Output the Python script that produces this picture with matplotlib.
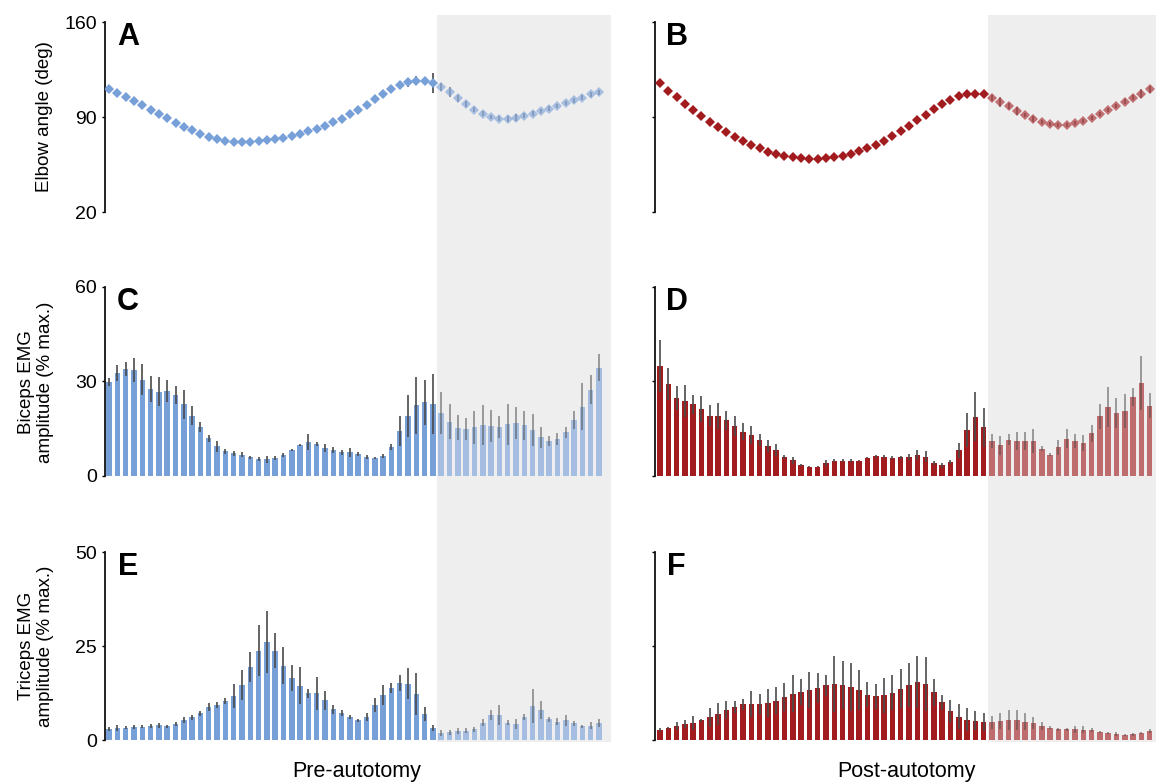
import matplotlib
matplotlib.use('Agg')
import matplotlib.pyplot as plt
from matplotlib.patches import Rectangle
import numpy as np

plt.rcParams['font.family'] = ['Liberation Sans', 'DejaVu Sans']

# ---- data (60 bins per cycle) ----
split = 40  # bins from this index on sit in the shaded phase

angle_pre = [111, 108, 104.8, 101.8, 98.6, 95.5, 92.2, 89, 85.9, 82.9,
             80.2, 77.7, 75.5, 73.7, 72.6, 71.8, 71.5, 71.5, 72, 72.8,
             73.5, 74.5, 76, 77.7, 79.4, 81.4, 83.6, 86.1, 88.8, 92,
             95.2, 99.2, 103.1, 106.8, 110.3, 113.4, 115.6, 116.9, 116.6, 114.9,
             111.9, 108.3, 103.8, 99.6, 95.5, 92.5, 90, 88.8, 88.5, 89.6,
             91, 92.5, 94.4, 96.2, 98.1, 100.3, 102.3, 104.3, 106.6, 108.3]
angle_pre_err = [2.0, 1.5, 1.5, 1.4, 1.5, 1.6, 1.5, 1.5, 1.6, 1.5,
                 1.6, 1.7, 1.8, 1.9, 2.2, 2.3, 2.4, 2.5, 2.4, 2.3,
                 2.2, 2.1, 2.0, 2.0, 2.1, 2.0, 2.0, 2.1, 2.0, 2.2,
                 2.3, 2.4, 2.6, 2.7, 2.9, 3.0, 3.2, 3.3, 3.0, 7.4,
                 3.0, 3.7, 2.4, 2.2, 2.0, 2.0, 1.8, 1.8, 1.9, 2.6,
                 2.0, 1.8, 1.8, 1.7, 1.7, 1.7, 1.8, 1.8, 1.9, 1.8]

angle_post = [114.7, 109.5, 104.8, 99.9, 95.2, 90.7, 86.6, 82.6, 78.7, 75.2,
              72, 69.3, 66.9, 64.4, 62.4, 61.2, 60.2, 59.5, 59, 59,
              59.5, 60.2, 61.2, 62.7, 64.6, 66.9, 69.3, 72.3, 75.7, 79.4,
              83.3, 87.6, 91.8, 95.7, 99.6, 102.9, 105.3, 106.8, 107, 106.6,
              104, 101.4, 98.1, 94.7, 91.5, 88.5, 86.3, 84.8, 84.1, 84.4,
              85.6, 87.3, 89.6, 92.2, 95, 98.1, 101.4, 104.3, 107.3, 110.5]
angle_post_err = [2.0, 1.2, 1.0, 1.0, 1.0, 1.0, 1.0, 1.0, 1.0, 1.0,
                  1.0, 1.0, 1.0, 1.0, 1.0, 1.0, 1.0, 1.0, 1.0, 1.0,
                  1.0, 1.0, 1.0, 1.0, 1.0, 1.0, 1.0, 1.0, 1.0, 1.0,
                  1.0, 1.0, 1.0, 1.0, 1.0, 1.2, 2.0, 2.0, 1.5, 1.5,
                  2.0, 3.7, 2.0, 3.0, 1.5, 2.0, 1.5, 1.5, 1.5, 1.5,
                  1.5, 1.5, 1.5, 1.5, 1.5, 1.5, 1.8, 2.0, 3.0, 2.5]

biceps_pre = [29.9, 32.7, 34, 33.5, 30.5, 27.7, 26.8, 26.9, 25.8, 22.8,
              19.2, 15.5, 12, 9.4, 7.8, 7.2, 6.7, 5.9, 5.4, 5.3,
              5.7, 6.7, 8.2, 9.9, 10.8, 10.1, 9, 8.2, 7.6, 7.5,
              6.9, 6.1, 5.7, 6.4, 9.2, 14.3, 19.1, 22.4, 23.4, 22.8,
              20, 17.2, 15.3, 14.9, 15.5, 16.1, 15.9, 15.6, 16.4, 16.8,
              16.1, 14.6, 12.3, 11.1, 11.8, 13.9, 17.7, 22, 27.4, 34.4]
biceps_pre_err = [1.2, 2.5, 2.3, 3.8, 4.9, 4.1, 4.5, 3.5, 2.8, 4.6,
                  3.1, 1.6, 1.1, 1.7, 0.8, 0.8, 0.8, 0.6, 0.5, 1.2,
                  0.7, 0.7, 0.3, 0.3, 2.4, 0.6, 1.3, 1.0, 0.8, 1.4,
                  0.7, 0.7, 0.3, 0.7, 1.1, 4.8, 6.6, 9.1, 7.1, 9.5,
                  6.6, 5.5, 4.0, 3.4, 5.2, 6.4, 5.2, 3.4, 6.5, 5.1,
                  4.6, 5.1, 3.3, 1.6, 1.9, 1.7, 2.9, 7.4, 4.5, 4.2]

biceps_post = [35, 29.2, 24.7, 23.9, 22.7, 21.2, 19.2, 19.1, 17.7, 15.8,
               14.1, 13, 11.4, 9.5, 8.2, 6.1, 5, 3.5, 2.9, 3,
               4.1, 4.8, 4.9, 4.9, 4.9, 5.8, 6.3, 6.1, 5.8, 5.9,
               6.1, 6.7, 6.1, 4.2, 3.4, 4.4, 8.2, 14.6, 18.8, 15.4,
               11.1, 9.7, 11.5, 11.1, 11.1, 11, 8.6, 6.7, 9.1, 11.8,
               11.1, 10.4, 13.5, 18.9, 21.9, 20, 20.7, 25.1, 29.6, 22.3]
biceps_post_err = [8.3, 5.0, 3.9, 5.1, 2.9, 4.1, 3.4, 4.2, 3.0, 3.2,
                   2.8, 2.9, 1.9, 1.8, 1.8, 0.7, 1.1, 0.4, 0.2, 0.3,
                   1.0, 0.5, 0.6, 0.5, 0.2, 0.2, 0.5, 0.5, 0.5, 0.5,
                   1.0, 1.6, 1.8, 0.7, 0.8, 0.7, 2.4, 5.3, 7.8, 6.3,
                   2.3, 2.9, 1.7, 2.9, 2.9, 3.8, 0.8, 0.5, 2.4, 3.0,
                   2.3, 2.6, 2.8, 4.1, 6.4, 4.8, 5.4, 2.9, 8.6, 4.0]

triceps_pre = [3, 3.2, 3.3, 3.5, 3.5, 3.7, 3.9, 3.7, 4.2, 5.3,
               6, 7.1, 8.8, 9.3, 10.3, 11.7, 14.7, 19.4, 23.8, 26.1,
               23.8, 19.8, 16.5, 14.4, 12.4, 12.4, 10.6, 8.2, 7.2, 6.2,
               5.2, 6.2, 9.3, 12, 13.8, 15.1, 15, 12.2, 6.9, 3.2,
               1.9, 2, 2.4, 2.5, 2.8, 4.6, 6.6, 6.6, 4.6, 4.3,
               6, 9, 8, 5.5, 4.9, 5.2, 4.4, 3.6, 3.8, 4.5]
triceps_pre_err = [0.5, 0.7, 0.5, 0.5, 0.4, 0.5, 0.7, 0.4, 0.6, 0.7,
                   0.6, 0.7, 1.0, 0.7, 0.8, 3.2, 4.0, 4.0, 6.8, 8.2,
                   4.7, 4.9, 3.4, 4.9, 1.3, 4.3, 2.5, 1.2, 0.9, 0.5,
                   0.5, 1.1, 1.9, 2.7, 1.4, 2.1, 4.1, 5.5, 1.8, 0.7,
                   0.7, 0.7, 0.8, 0.7, 0.7, 1.0, 1.3, 2.7, 0.7, 1.4,
                   0.8, 4.6, 2.3, 0.7, 0.9, 1.4, 0.7, 0.4, 0.9, 1.1]

triceps_post = [2.6, 3.2, 3.7, 4.2, 4.6, 5.2, 6, 7, 8.1, 8.9,
                9.5, 9.6, 9.6, 9.9, 10.5, 11.4, 12.3, 12.8, 13.2, 13.8,
                14.5, 14.9, 14.7, 14.2, 13.2, 12.1, 11.6, 11.9, 12.6, 13.6,
                14.7, 15.4, 14.9, 12.7, 10, 7.6, 6.2, 5.4, 5.1, 4.8,
                4.7, 5, 5.3, 5.3, 4.9, 4.4, 3.8, 3.2, 2.8, 2.8,
                2.8, 2.7, 2.6, 2.2, 1.8, 1.6, 1.4, 1.5, 1.8, 2.4]
triceps_post_err = [0.6, 0.3, 1.1, 1.1, 1.9, 0.5, 2.5, 2.9, 2.4, 1.6,
                    1.4, 3.4, 2.7, 3.8, 3.6, 3.8, 4.9, 3.4, 4.8, 4.0,
                    2.9, 7.4, 6.4, 6.4, 5.3, 3.2, 3.3, 4.7, 4.7, 5.2,
                    5.9, 7.0, 7.3, 3.6, 1.9, 3.0, 3.3, 3.0, 2.5, 2.5,
                    1.8, 2.1, 2.6, 2.7, 2.2, 1.6, 1.1, 0.4, 0.3, 0.5,
                    0.9, 0.9, 0.6, 0.3, 0.3, 0.6, 0.2, 0.3, 0.3, 0.6]

blue = '#779fd8'
red = '#a21c1f'
band = '#eeeeee'

fig = plt.figure(figsize=(11.56, 7.83), dpi=100)

# axes boxes in figure fractions
lefts = [0.0904, 0.5666]
widths = [0.4382, 0.4334]
rows = [(0.7292, 0.2427), (0.3921, 0.2414), (0.0549, 0.2401)]
xlims = [(-0.55, 60.45), (-0.6, 59.76)]


def setup(ax, col, ylim, ticks):
    ax.set_facecolor('none')
    ax.set_xlim(*xlims[col])
    ax.set_ylim(*ylim)
    for s in ['top', 'right', 'bottom']:
        ax.spines[s].set_visible(False)
    ax.spines['left'].set_linewidth(1.3)
    ax.spines['left'].set_color('#111111')
    ax.set_xticks([])
    ax.set_yticks(ticks)
    ax.tick_params(axis='y', direction='out', length=2.5, width=1, labelsize=14,
                   pad=3, labelleft=(col == 0))


def angle_panel(ax, vals, errs, color):
    x = np.arange(len(vals))
    v = np.array(vals)
    e = np.array(errs)
    a, b = slice(0, split), slice(split, None)
    ax.errorbar(x[a], v[a], yerr=e[a], fmt='D', ms=5, mew=0, color=color,
                ecolor='#555555', elinewidth=1.3, capsize=0, zorder=3)
    ax.errorbar(x[b], v[b], yerr=e[b], fmt='D', ms=5, mew=0, color=color, alpha=0.6,
                ecolor='#555555', elinewidth=1.3, capsize=0, zorder=3)


def bar_panel(ax, vals, errs, color):
    x = np.arange(len(vals))
    v = np.array(vals)
    e = np.array(errs)
    a, b = slice(0, split), slice(split, None)
    ax.bar(x[a], v[a], width=0.66, color=color, linewidth=0,
           yerr=e[a], error_kw=dict(ecolor='#4a4a4a', elinewidth=1.2, capsize=0))
    ax.bar(x[b], v[b], width=0.66, color=color, alpha=0.62, linewidth=0, yerr=e[b],
           error_kw=dict(ecolor='#4a4a4a', elinewidth=1.2, capsize=0, alpha=0.6))


axes = {}
for col in range(2):
    for r, (bot, h) in enumerate(rows):
        axes[(r, col)] = fig.add_axes([lefts[col], bot, widths[col], h])

setup(axes[(0, 0)], 0, (20, 160), [20, 90, 160])
setup(axes[(0, 1)], 1, (20, 160), [20, 90, 160])
setup(axes[(1, 0)], 0, (0, 60), [0, 30, 60])
setup(axes[(1, 1)], 1, (0, 60), [0, 30, 60])
setup(axes[(2, 0)], 0, (0, 50), [0, 25, 50])
setup(axes[(2, 1)], 1, (0, 50), [0, 25, 50])

angle_panel(axes[(0, 0)], angle_pre, angle_pre_err, blue)
angle_panel(axes[(0, 1)], angle_post, angle_post_err, red)
bar_panel(axes[(1, 0)], biceps_pre, biceps_pre_err, blue)
bar_panel(axes[(1, 1)], biceps_post, biceps_post_err, red)
bar_panel(axes[(2, 0)], triceps_pre, triceps_pre_err, blue)
bar_panel(axes[(2, 1)], triceps_post, triceps_post_err, red)

# grey band behind the last phase, spanning all three rows
fig.canvas.draw()
for col in range(2):
    ax_top = axes[(0, col)]
    ax_bot = axes[(2, col)]
    x0 = fig.transFigure.inverted().transform(
        ax_top.transData.transform((split - 0.5, 0)))[0]
    x1 = lefts[col] + widths[col]
    y0 = ax_bot.get_position().y0 - 2 / 783
    y1 = ax_top.get_position().y1 + 7 / 783
    fig.patches.append(Rectangle((x0, y0), x1 - x0, y1 - y0, transform=fig.transFigure,
                                 facecolor=band, edgecolor='none', zorder=-10))

letters = [['A', 'B'], ['C', 'D'], ['E', 'F']]
for r in range(3):
    for col in range(2):
        xpos = 0.046 if col == 0 else 0.043
        axes[(r, col)].text(xpos, 0.92, letters[r][col], transform=axes[(r, col)].transAxes,
                            ha='center', va='center', fontsize=22, fontweight='bold')

lab_font = dict(fontsize=13.5, rotation=90, ha='center', va='center')
fig.text(45 / 1156, 1 - 117 / 783, 'Elbow angle (deg)', **lab_font)
fig.text(36 / 1156, 1 - 382 / 783, 'Biceps EMG\namplitude (% max.)', linespacing=1.2, **lab_font)
fig.text(36 / 1156, 1 - 646 / 783, 'Triceps EMG\namplitude (% max.)', linespacing=1.2, **lab_font)

fig.text(357 / 1156, 1 - 771 / 783, 'Pre-autotomy', ha='center', va='center', fontsize=15.5)
fig.text(906 / 1156, 1 - 771 / 783, 'Post-autotomy', ha='center', va='center', fontsize=15.5)

fig.savefig('out.png', dpi=100)
